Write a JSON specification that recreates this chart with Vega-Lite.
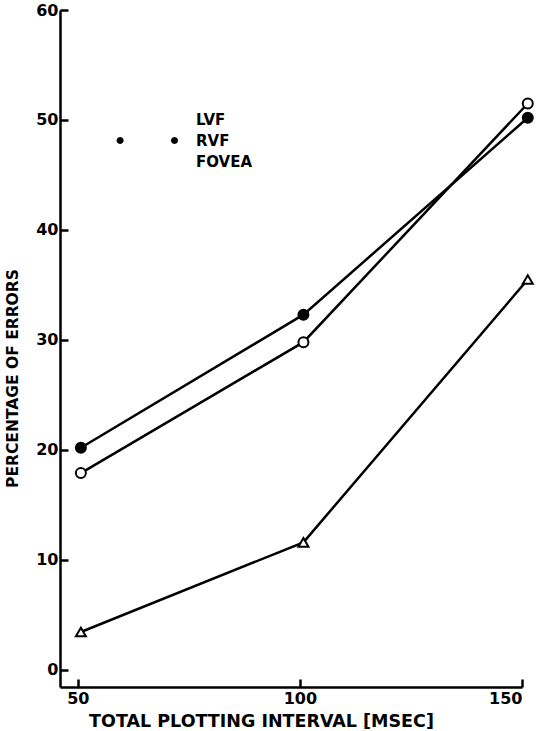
{
  "$schema": "https://vega.github.io/schema/vega-lite/v6.json",
  "width": 462,
  "height": 677,
  "autosize": {"type": "none"},
  "padding": {"left": 60, "top": 10, "right": 17, "bottom": 44},
  "background": "white",
  "config": {
    "view": {"stroke": null},
    "axis": {
      "grid": false,
      "domainColor": "black",
      "domainWidth": 2.5,
      "tickColor": "black",
      "tickWidth": 2.5,
      "tickSize": -8,
      "labelFont": "DejaVu Sans",
      "labelFontWeight": "bold",
      "labelFontSize": 16,
      "labelColor": "black",
      "titleFont": "DejaVu Sans",
      "titleFontWeight": "bold",
      "titleColor": "black"
    },
    "legend": {
      "title": null,
      "orient": "none",
      "legendX": 107,
      "legendY": 102,
      "padding": 0,
      "rowPadding": 4,
      "symbolSize": 64,
      "symbolStrokeColor": "black",
      "symbolStrokeWidth": 2,
      "symbolOpacity": 1,
      "labelFont": "DejaVu Sans",
      "labelFontWeight": "bold",
      "labelFontSize": 15,
      "labelColor": "black",
      "labelOffset": 14
    }
  },
  "data": {
    "values": [
      {"series": "LVF", "interval": 50.7, "errors": 17.9},
      {"series": "LVF", "interval": 100.8, "errors": 29.8},
      {"series": "LVF", "interval": 151.3, "errors": 51.5},
      {"series": "RVF", "interval": 50.7, "errors": 20.2},
      {"series": "RVF", "interval": 100.8, "errors": 32.3},
      {"series": "RVF", "interval": 151.3, "errors": 50.2},
      {"series": "FOVEA", "interval": 50.7, "errors": 3.45},
      {"series": "FOVEA", "interval": 100.8, "errors": 11.6},
      {"series": "FOVEA", "interval": 151.3, "errors": 35.5}
    ]
  },
  "encoding": {
    "x": {
      "field": "interval",
      "type": "quantitative",
      "scale": {"domain": [46, 150], "nice": false, "zero": false},
      "axis": {
        "values": [50, 100, 150],
        "title": "TOTAL PLOTTING INTERVAL [MSEC]",
        "titleFontSize": 17.5,
        "labelPadding": 11,
        "labelFlush": true,
        "titleX": 201,
        "titleY": 25
      }
    },
    "y": {
      "field": "errors",
      "type": "quantitative",
      "scale": {"domain": [-1.55, 60], "nice": false, "zero": false},
      "axis": {
        "values": [0, 10, 20, 30, 40, 50, 60],
        "title": "PERCENTAGE OF ERRORS",
        "titleFontSize": 15.5,
        "labelPadding": 10,
        "titleX": -40,
        "titleY": 368
      }
    }
  },
  "layer": [
    {
      "mark": {"type": "line", "color": "black", "strokeWidth": 2.5, "clip": false},
      "encoding": {"detail": {"field": "series"}}
    },
    {
      "mark": {"type": "point", "filled": false, "stroke": "black", "strokeWidth": 2, "opacity": 0, "size": 64, "clip": false},
      "encoding": {
        "shape": {
          "field": "series",
          "type": "nominal",
          "sort": ["LVF", "RVF", "FOVEA"],
          "scale": {
            "domain": ["LVF", "RVF", "FOVEA"],
            "range": [
              "M-12.7,0L-12.82,0.45L-13.15,0.78L-13.6,0.9L-14.05,0.78L-14.38,0.45L-14.5,0L-14.38,-0.45L-14.05,-0.78L-13.6,-0.9L-13.15,-0.78L-12.82,-0.45Z M-12.7,0L-0.9,0 M0.9,0L0.78,0.45L0.45,0.78L0,0.9L-0.45,0.78L-0.78,0.45L-0.9,0L-0.78,-0.45L-0.45,-0.78L0,-0.9L0.45,-0.78L0.78,-0.45Z",
              "M-12.7,0L-12.82,0.45L-13.15,0.78L-13.6,0.9L-14.05,0.78L-14.38,0.45L-14.5,0L-14.38,-0.45L-14.05,-0.78L-13.6,-0.9L-13.15,-0.78L-12.82,-0.45Z M-12.7,0L-0.9,0 M0.9,0L0.78,0.45L0.45,0.78L0,0.9L-0.45,0.78L-0.78,0.45L-0.9,0L-0.78,-0.45L-0.45,-0.78L0,-0.9L0.45,-0.78L0.78,-0.45Z",
              "M-14.6,0.8L-12.6,0.8L-13.6,-0.9Z M-12.6,0.5L-1,0.5 M-1,0.8L1,0.8L0,-0.9Z"
            ]
          }
        },
        "fill": {
          "field": "series",
          "type": "nominal",
          "sort": ["LVF", "RVF", "FOVEA"],
          "scale": {"domain": ["LVF", "RVF", "FOVEA"], "range": ["white", "black", "white"]}
        }
      }
    },
    {
      "mark": {"type": "point", "filled": false, "stroke": "black", "strokeWidth": 2, "opacity": 1, "size": 100, "clip": false},
      "encoding": {
        "shape": {
          "condition": {"test": "datum.series === 'FOVEA'", "value": "triangle-up"},
          "value": "circle"
        },
        "fill": {
          "field": "series",
          "type": "nominal",
          "sort": ["LVF", "RVF", "FOVEA"],
          "scale": {"domain": ["LVF", "RVF", "FOVEA"], "range": ["white", "black", "white"]}
        }
      }
    }
  ]
}
